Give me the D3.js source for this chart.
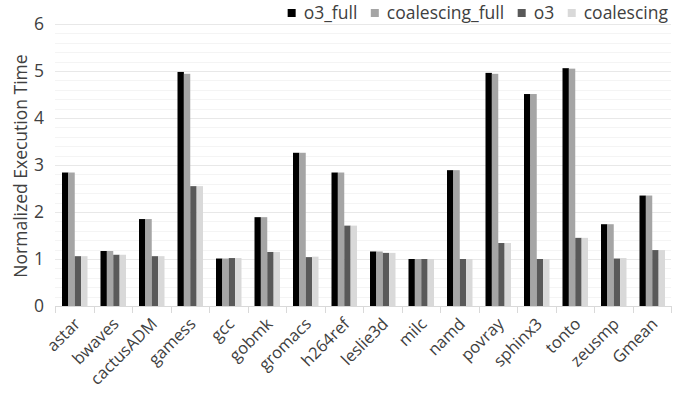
<!DOCTYPE html>
<html>
<head>
<meta charset="utf-8">
<script src="https://d3js.org/d3.v7.min.js"></script>
<style>
  body { margin: 0; background: #fff; }
  text { font-family: "Open Sans", sans-serif; fill: #404040; }
</style>
</head>
<body>
<svg id="chart" width="689" height="393"></svg>
<script>
// benchmarks along the x axis
var categories = ["astar", "bwaves", "cactusADM", "gamess", "gcc", "gobmk", "gromacs",
  "h264ref", "leslie3d", "milc", "namd", "povray", "sphinx3", "tonto", "zeusmp", "Gmean"];

var seriesNames = ["o3_full", "coalescing_full", "o3", "coalescing"];
var seriesColors = ["#000000", "#a5a5a5", "#595959", "#d9d9d9"];

var o3Full         = [2.84, 1.17, 1.85, 4.98, 1.01, 1.89, 3.26, 2.84, 1.16, 1.00, 2.89, 4.96, 4.51, 5.06, 1.74, 2.35];
var coalescingFull = [2.84, 1.17, 1.85, 4.94, 1.01, 1.89, 3.26, 2.84, 1.16, 1.00, 2.89, 4.94, 4.51, 5.05, 1.74, 2.35];
var o3             = [1.06, 1.09, 1.06, 2.55, 1.02, 1.15, 1.04, 1.71, 1.13, 1.00, 1.00, 1.34, 1.00, 1.45, 1.01, 1.19];
var coalescing     = [1.06, 1.09, 1.06, 2.55, 1.02, 1.15, 1.05, 1.71, 1.13, 1.00, 1.00, 1.34, 1.00, 1.45, 1.02, 1.19];

var yTicks = [0, 1, 2, 3, 4, 5, 6];

var values = [o3Full, coalescingFull, o3, coalescing];

var svg = d3.select("#chart");
var plotLeft = 55, plotRight = 671, plotTop = 24, plotBottom = 306;

var x = d3.scaleBand().domain(categories).range([plotLeft, plotRight]);
var xs = d3.scaleBand().domain(seriesNames)
  .range([7, x.bandwidth() - 6]);
var y = d3.scaleLinear().domain([0, 6]).range([plotBottom, plotTop]);

// minor grid every 0.2
svg.append("g").selectAll("line")
  .data(d3.range(1, 30).filter(function(i) { return i % 5 != 0; }).map(function(i) { return i / 5; }))
  .enter().append("line")
  .attr("x1", plotLeft).attr("x2", plotRight)
  .attr("y1", function(d) { return Math.round(y(d)) + 0.5; })
  .attr("y2", function(d) { return Math.round(y(d)) + 0.5; })
  .attr("stroke", "#f4f4f4");

// major grid
svg.append("g").selectAll("line")
  .data(yTicks.slice(1))
  .enter().append("line")
  .attr("x1", plotLeft).attr("x2", plotRight)
  .attr("y1", function(d) { return Math.round(y(d)) + 0.5; })
  .attr("y2", function(d) { return Math.round(y(d)) + 0.5; })
  .attr("stroke", "#e8e8e8");

// x axis with ticks between the categories
svg.append("line")
  .attr("x1", plotLeft).attr("x2", plotRight)
  .attr("y1", plotBottom + 0.5).attr("y2", plotBottom + 0.5)
  .attr("stroke", "#d9d9d9");
svg.append("g").selectAll("line")
  .data(categories.concat(["end"]))
  .enter().append("line")
  .attr("x1", function(d, i) { return Math.round(plotLeft + i * x.bandwidth()) + 0.5; })
  .attr("x2", function(d, i) { return Math.round(plotLeft + i * x.bandwidth()) + 0.5; })
  .attr("y1", plotBottom).attr("y2", plotBottom + 7)
  .attr("stroke", "#d9d9d9");

// bars
var groups = svg.append("g").selectAll("g")
  .data(categories)
  .enter().append("g")
  .attr("transform", function(d) { return "translate(" + x(d) + ",0)"; });

groups.selectAll("rect")
  .data(function(d, i) {
    return seriesNames.map(function(s, k) { return { s: s, k: k, v: values[k][i] }; });
  })
  .enter().append("rect")
  .attr("x", function(d) { return xs(d.s); })
  .attr("width", xs.bandwidth())
  .attr("y", function(d) { return y(d.v); })
  .attr("height", function(d) { return y(0) - y(d.v); })
  .attr("fill", function(d) { return seriesColors[d.k]; });

// y tick labels
svg.append("g").selectAll("text")
  .data(yTicks)
  .enter().append("text")
  .attr("x", 44)
  .attr("y", function(d) { return y(d) + 6; })
  .attr("text-anchor", "end")
  .style("font-size", "17.5px")
  .text(function(d) { return d; });

// x tick labels, rotated
svg.append("g").selectAll("text")
  .data(categories)
  .enter().append("text")
  .attr("transform", function(d) {
    return "translate(" + (x(d) + x.bandwidth() / 2 + 7) + "," + (plotBottom + 19) + ") rotate(-45)";
  })
  .attr("text-anchor", "end")
  .style("font-size", "16.5px")
  .text(function(d) { return d; });

// y axis title
svg.append("text")
  .attr("transform", "translate(27,166) rotate(-90)")
  .attr("text-anchor", "middle")
  .style("font-size", "17.5px")
  .text("Normalized Execution Time");

// legend, laid out right to left so it ends at the plot's right edge
var legend = svg.append("g");
var lx = 668;
for (var k = seriesNames.length - 1; k >= 0; k--) {
  var t = legend.append("text")
    .attr("y", 19)
    .style("font-size", "17.5px")
    .text(seriesNames[k]);
  var w = t.node().getComputedTextLength();
  lx -= w;
  t.attr("x", lx);
  legend.append("rect")
    .attr("x", lx - 16).attr("y", 9)
    .attr("width", 8).attr("height", 8)
    .attr("fill", seriesColors[k]);
  lx -= 29.5;
}
</script>
</body>
</html>
